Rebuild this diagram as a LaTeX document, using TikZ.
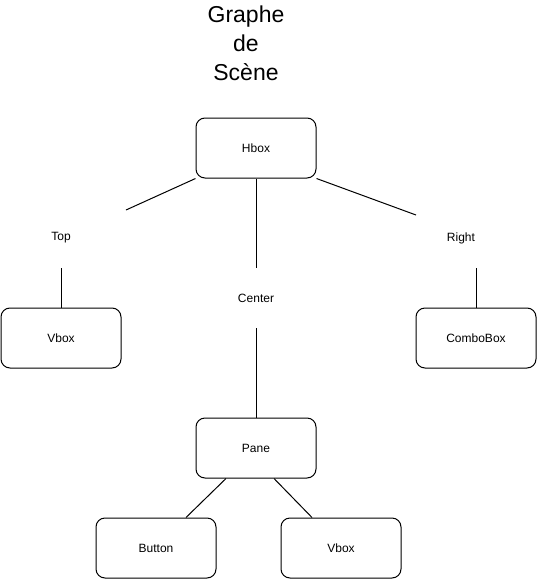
\documentclass[tikz,border=0pt]{standalone}
\usepackage{fontspec}
\setmainfont{Liberation Sans}
\begin{document}
\begin{tikzpicture}[x=1pt,y=-1pt,
  box/.style={draw=black,line width=1pt,rounded corners=9pt,minimum width=120pt,minimum height=60pt,inner sep=0pt,font=\fontsize{12}{14}\selectfont,fill=white},
  lbl/.style={inner sep=0pt,font=\fontsize{12}{14}\selectfont},
  conn/.style={line width=1pt}]
\useasboundingbox (0,0) rectangle (537,579);
\node[align=center,font=\fontsize{23}{29}\selectfont] (title) at (246,43) {Graphe\\de\\Scène};
\node[box] (hbox) at (256,148) {Hbox};
\node[box] (vboxl) at (61,338) {Vbox};
\node[box] (combo) at (476,338) {ComboBox};
\node[box] (pane) at (256,448) {Pane};
\node[box] (button) at (156,548) {Button};
\node[box] (vboxb) at (341,548) {Vbox};
\node[lbl] (top) at (61,238) {Top};
\node[lbl] (center) at (256,298) {Center};
\node[lbl] (right) at (461,238) {Right};
\coordinate (topin) at (126,210);
\coordinate (topout) at (61,268);
\coordinate (cenin) at (256,268);
\coordinate (cenout) at (256,328);
\coordinate (rightin) at (416,215);
\coordinate (rightout) at (476,268);
\draw[conn] (hbox.south west) -- (topin);
\draw[conn] (topout) -- (vboxl.north);
\draw[conn] (hbox.south) -- (cenin);
\draw[conn] (cenout) -- (pane.north);
\draw[conn] (hbox.south east) -- (rightin);
\draw[conn] (rightout) -- (combo.north);
\draw[conn] ([xshift=-30pt]pane.south) -- ([xshift=30pt]button.north);
\draw[conn] ([xshift=18pt]pane.south) -- ([xshift=-29pt]vboxb.north);
\end{tikzpicture}
\end{document}
